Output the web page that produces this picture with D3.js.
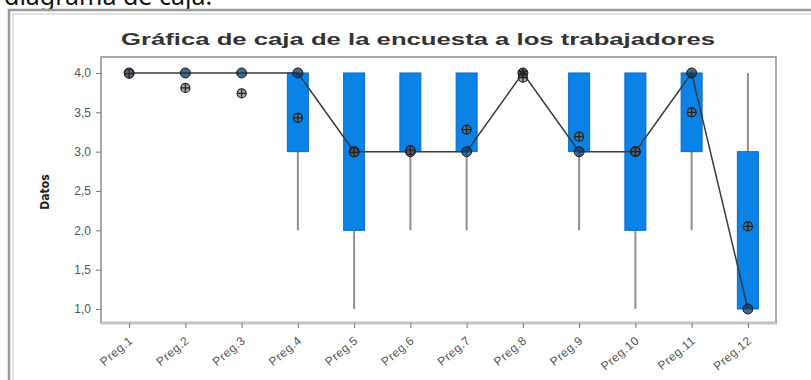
<!DOCTYPE html>
<html>
<head>
<meta charset="utf-8">
<script src="https://cdn.jsdelivr.net/npm/d3@7"></script>
<style>
  body { margin: 0; background: #fff; }
  svg { display: block; font-family: "Liberation Sans", Arial, sans-serif; }
</style>
</head>
<body>
<svg width="811" height="380"></svg>
<script>
// Datos
const categories = ["Preg.1", "Preg.2", "Preg.3", "Preg.4", "Preg.5", "Preg.6",
  "Preg.7", "Preg.8", "Preg.9", "Preg.10", "Preg.11", "Preg.12"];
const q1Values = [4, 4, 4, 3, 2, 3, 3, 4, 3, 2, 3, 1];
const medianValues = [4, 4, 4, 4, 3, 3, 3, 4, 3, 3, 4, 1];
const q3Values = [4, 4, 4, 4, 4, 4, 4, 4, 4, 4, 4, 3];
const whiskerLow = [4, 4, 4, 2, 1, 2, 2, 4, 2, 1, 2, 1];
const whiskerHigh = [4, 4, 4, 4, 4, 4, 4, 4, 4, 4, 4, 4];
const meanValues = [3.99, 3.81, 3.74, 3.43, 2.99, 3.02, 3.28, 3.94, 3.19, 3.0, 3.5, 2.05];
const outlierCats = ["Preg.8"];
const outlierValues = [4.0];
const yTicks = [1.0, 1.5, 2.0, 2.5, 3.0, 3.5, 4.0];

const svg = d3.select("svg");
const plot = { left: 101, right: 776, top: 57, bottom: 323 };

const x = d3.scalePoint()
  .domain(categories)
  .range([plot.left, plot.right])
  .padding(0.5);

const y = d3.scaleLinear()
  .domain([0.822, 4.203])
  .range([plot.bottom, plot.top]);

const rows = categories.map((c, i) => ({
  cat: c, q1: q1Values[i], med: medianValues[i], q3: q3Values[i],
  lo: whiskerLow[i], hi: whiskerHigh[i], mean: meanValues[i]
}));

// text cut at the top of the picture (as in the reference)
svg.append("text")
  .attr("x", 4)
  .attr("y", 5)
  .attr("font-family", "'Noto Sans', sans-serif")
  .attr("font-size", 25)
  .attr("fill", "#111")
  .text("diagrama de caja.");

// image frame
svg.append("path")
  .attr("d", "M9,380 V10 H811")
  .attr("fill", "none")
  .attr("stroke", "#9a9a9a")
  .attr("stroke-width", 2.5);
svg.append("path")
  .attr("d", "M13,380 V14 H811")
  .attr("fill", "none")
  .attr("stroke", "#e2e2e2")
  .attr("stroke-width", 2);

// title
svg.append("text")
  .attr("x", 418)
  .attr("y", 45)
  .attr("text-anchor", "middle")
  .attr("font-size", 16)
  .attr("font-weight", "bold")
  .attr("fill", "#333")
  .attr("textLength", 594)
  .attr("lengthAdjust", "spacingAndGlyphs")
  .text("Gráfica de caja de la encuesta a los trabajadores");

// plot frame
svg.append("rect")
  .attr("x", plot.left)
  .attr("y", plot.top)
  .attr("width", plot.right - plot.left)
  .attr("height", plot.bottom - plot.top)
  .attr("fill", "none")
  .attr("stroke", "#8c8c8c")
  .attr("stroke-width", 1.5);

svg.append("line")
  .attr("x1", plot.left).attr("x2", plot.right)
  .attr("y1", plot.bottom).attr("y2", plot.bottom)
  .attr("stroke", "#c4c4c4")
  .attr("stroke-width", 3);

// y axis
const yAxis = svg.append("g")
  .attr("transform", `translate(${plot.left},0)`)
  .call(d3.axisLeft(y).tickValues(yTicks).tickSize(5).tickPadding(5)
    .tickFormat(d => d3.format(".1f")(d).replace(".", ",")));
yAxis.select(".domain").remove();
yAxis.selectAll(".tick line").attr("stroke", "#777");
yAxis.selectAll(".tick text")
  .attr("font-size", 12)
  .attr("fill", "#555")
  .attr("font-family", "'Liberation Sans', Arial, sans-serif");

svg.append("text")
  .attr("transform", "translate(49,192) rotate(-90)")
  .attr("text-anchor", "middle")
  .attr("font-size", 12)
  .attr("font-weight", "bold")
  .attr("fill", "#222")
  .attr("font-family", "'Liberation Sans Narrow', 'DejaVu Sans Condensed', sans-serif")
  .text("Datos");

// x axis
const xAxis = svg.append("g")
  .attr("transform", `translate(0,${plot.bottom})`)
  .call(d3.axisBottom(x).tickSize(5).tickPadding(8));
xAxis.select(".domain").remove();
xAxis.selectAll(".tick line").attr("stroke", "#777");
xAxis.selectAll(".tick text")
  .attr("font-size", 12)
  .attr("fill", "#555")
  .attr("letter-spacing", "0.5px")
  .attr("text-anchor", "end")
  .attr("dx", "0.1em")
  .attr("dy", "0.5em")
  .attr("transform", "translate(-9,5) rotate(-40)");

// whiskers
svg.selectAll(".whisker")
  .data(rows.filter(d => d.hi > d.lo))
  .join("line")
  .attr("class", "whisker")
  .attr("x1", d => x(d.cat)).attr("x2", d => x(d.cat))
  .attr("y1", d => y(d.lo)).attr("y2", d => y(d.hi))
  .attr("stroke", "#8f8f8f")
  .attr("stroke-width", 2);

// boxes
const boxW = 21;
svg.selectAll(".box")
  .data(rows.filter(d => d.q3 > d.q1))
  .join("rect")
  .attr("class", "box")
  .attr("x", d => x(d.cat) - boxW / 2)
  .attr("y", d => y(d.q3))
  .attr("width", boxW)
  .attr("height", d => y(d.q1) - y(d.q3))
  .attr("fill", "#0a82e6")
  .attr("stroke", "#0b6cc4")
  .attr("stroke-width", 1);

// median connect line
svg.append("path")
  .datum(rows)
  .attr("fill", "none")
  .attr("stroke", "#3a3a3a")
  .attr("stroke-width", 1.5)
  .attr("d", d3.line().x(d => x(d.cat)).y(d => y(d.med)));

// median markers
svg.selectAll(".med")
  .data(rows)
  .join("circle")
  .attr("class", "med")
  .attr("cx", d => x(d.cat))
  .attr("cy", d => y(d.med))
  .attr("r", 5)
  .attr("fill", "#0d3560")
  .attr("fill-opacity", 0.75)
  .attr("stroke", "#1a1a1a")
  .attr("stroke-width", 1);

// mean symbols (circle with cross)
const meanG = svg.selectAll(".mean")
  .data(rows)
  .join("g")
  .attr("class", "mean")
  .attr("transform", d => `translate(${x(d.cat)},${y(d.mean)})`);
meanG.append("circle")
  .attr("r", 4.5)
  .attr("fill", "#6a6a6a")
  .attr("fill-opacity", 0.6)
  .attr("stroke", "#222")
  .attr("stroke-width", 1.2);
meanG.append("path")
  .attr("d", "M-4.5,0H4.5M0,-4.5V4.5")
  .attr("stroke", "#222")
  .attr("stroke-width", 1.2);

// outliers (asterisk)
svg.selectAll(".outlier")
  .data(outlierCats.map((c, i) => ({ cat: c, v: outlierValues[i] })))
  .join("path")
  .attr("class", "outlier")
  .attr("transform", d => `translate(${x(d.cat)},${y(d.v)})`)
  .attr("d", d3.symbol(d3.symbolAsterisk, 60))
  .attr("stroke", "#222")
  .attr("stroke-width", 2);
</script>
</body>
</html>
